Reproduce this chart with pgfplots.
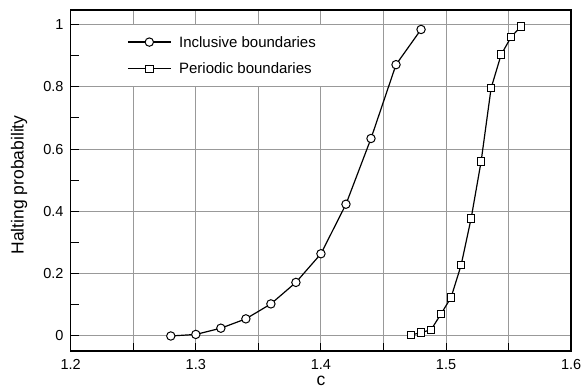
\documentclass[border=0pt]{standalone}
\usepackage{fontspec}
\setmainfont{Liberation Sans}
\usepackage{pgfplots}
\pgfplotsset{compat=1.18}
\begin{document}
\begin{tikzpicture}
\begin{axis}[
  at={(0,0)}, anchor=south west,
  scale only axis, width=500.5pt, height=341pt,
  xmin=1.2, xmax=1.6, ymin=-0.0482, ymax=1.0465,
  xtick={1.2,1.3,1.4,1.5,1.6},
  minor xtick={1.25,1.35,1.45,1.55},
  ytick={0,0.2,0.4,0.6,0.8,1},
  minor ytick={0.1,0.3,0.5,0.7,0.9},
  xmajorgrids, xminorgrids, ymajorgrids,
  grid style={line width=1pt, color=black!40},
  minor grid style={line width=1pt, color=black!40},
  tick align=inside, tick pos=left,
  major tick length=8pt, minor tick length=8pt,
  every tick/.style={black, line width=1pt},
  axis line style={line width=1.4pt},
  /pgf/number format/assume math mode=true,
  ticklabel style={font=\fontsize{14.5}{16}\selectfont},
  xticklabel style={yshift=-5pt, /pgf/number format/fixed, /pgf/number format/precision=1},
  yticklabel style={xshift=-3.7pt},
  xlabel={c}, ylabel={Halting probability},
  label style={font=\fontsize{17.5}{20}\selectfont},
  xlabel style={at={(axis description cs:0.5,-0.062)}, anchor=north},
  ylabel style={at={(axis description cs:-0.1033,0.487)}, anchor=center},
  legend cell align=left,
  legend style={draw=none, fill=white, at={(axis cs:1.2375,1)}, anchor=north west,
    inner sep=9.4pt, row sep=10.7pt, column sep=5.7pt,
    nodes={inner sep=2pt, text height=11pt, text depth=1pt},
    font=\fontsize{15}{17}\selectfont},
  legend image code/.code={%
    \draw[#1, mark repeat=2, mark phase=2] plot coordinates {(0pt,0pt) (21.5pt,0pt) (43pt,0pt)};},
]
\addplot[black, line width=1.2pt, mark=*, mark size=4.2pt,
  mark options={fill=white, draw=black, line width=1pt, solid}]
  coordinates {
  (1.28,0.000) (1.30,0.005) (1.32,0.025) (1.34,0.055) (1.36,0.103)
  (1.38,0.172) (1.40,0.264) (1.42,0.423) (1.44,0.634) (1.46,0.871)
  (1.48,0.984)};
\addlegendentry{Inclusive boundaries}
\addplot[black, line width=1.2pt, mark=square*, mark size=3.7pt,
  mark options={fill=white, draw=black, line width=1pt, solid}]
  coordinates {
  (1.472,0.003) (1.480,0.011) (1.488,0.020) (1.496,0.071) (1.504,0.124)
  (1.512,0.227) (1.520,0.377) (1.528,0.560) (1.536,0.796) (1.544,0.903)
  (1.552,0.960) (1.560,0.994)};
\addlegendentry{Periodic boundaries}
\end{axis}
\pgfresetboundingbox
\useasboundingbox (-70.7pt,-38pt) rectangle (511.3pt,351pt);
\end{tikzpicture}
\end{document}
